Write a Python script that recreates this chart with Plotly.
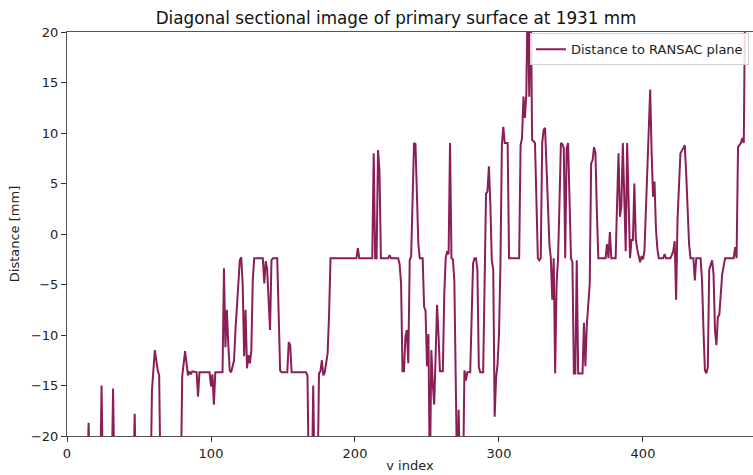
import plotly.graph_objects as go

# v index positions and distance values (mm); values beyond +/-20 are clipped by the axis
v_index = [
    0, 14, 15, 16, 23, 24, 25, 31, 32, 33,
    46, 47, 48, 58, 59, 61, 63, 64, 65, 79,
    80, 82, 84, 85, 86, 87, 90, 91, 92, 99,
    100, 101, 102, 103, 108, 109, 110, 111, 112, 113,
    114, 115, 116, 117, 119, 120, 121, 122, 123, 124,
    125, 126, 127, 128, 129, 130, 136, 137, 138, 139,
    141, 142, 143, 146, 147, 148, 149, 153, 154, 155,
    156, 166, 167, 168, 170, 171, 172, 174, 175, 176,
    177, 178, 179, 180, 181, 182, 183, 201, 202, 203,
    212, 213, 214, 215, 216, 217, 218, 223, 224, 225,
    230, 231, 232, 233, 234, 235, 236, 237, 238, 239,
    240, 241, 242, 243, 244, 245, 247, 248, 249, 250,
    251, 252, 253, 254, 255, 256, 257, 258, 259, 261,
    262, 263, 264, 265, 266, 267, 268, 269, 270, 271,
    272, 273, 275, 276, 277, 278, 280, 281, 282, 283,
    284, 285, 286, 287, 289, 290, 291, 292, 293, 294,
    295, 296, 297, 298, 299, 300, 301, 302, 303, 304,
    306, 307, 314, 315, 316, 317, 318, 319, 320, 321,
    322, 323, 324, 325, 326, 327, 328, 329, 330, 331,
    332, 333, 334, 335, 336, 337, 338, 339, 340, 341,
    342, 343, 344, 345, 346, 347, 348, 349, 350, 351,
    352, 353, 354, 355, 356, 358, 359, 360, 361, 362,
    363, 364, 365, 366, 367, 368, 369, 374, 375, 376,
    377, 378, 381, 382, 383, 384, 385, 386, 387, 388,
    389, 390, 391, 392, 393, 394, 395, 396, 397, 398,
    399, 400, 401, 402, 403, 404, 405, 406, 407, 408,
    409, 410, 411, 414, 415, 416, 419, 420, 421, 422,
    423, 424, 425, 426, 428, 429, 430, 431, 432, 433,
    435, 436, 437, 440, 441, 442, 443, 444, 445, 446,
    447, 448, 449, 450, 451, 452, 453, 454, 455, 456,
    457, 463, 464, 465, 466, 467, 468, 469, 470, 471,
    472,
]

distance = [
    -25, -25, -18.7, -25, -25, -15.0, -25, -25, -15.3, -25,
    -25, -17.8, -25, -25, -15.5, -11.5, -13.5, -14.0, -25, -25,
    -14.1, -11.6, -14.0, -13.6, -13.9, -13.6, -13.7, -16.1, -13.7, -13.7,
    -15.1, -13.9, -16.9, -13.7, -13.7, -3.4, -11.2, -7.5, -10.9, -13.5,
    -13.7, -13.2, -12.5, -9.5, -4.0, -2.6, -2.3, -5.0, -12.1, -7.5,
    -13.3, -12.0, -12.8, -11.5, -4.6, -2.4, -2.4, -4.9, -2.7, -3.5,
    -9.5, -2.6, -2.4, -2.4, -8.0, -13.5, -13.7, -13.7, -10.7, -11.0,
    -13.7, -13.7, -14.0, -25, -25, -15.0, -25, -25, -13.8, -13.6,
    -12.5, -14.0, -13.7, -12.5, -11.8, -8.0, -2.4, -2.4, -1.4, -2.4,
    -2.4, 8.0, -2.4, -2.4, 8.3, 6.3, -2.4, -2.4, -2.1, -2.4,
    -2.4, -3.0, -4.9, -13.6, -13.6, -10.2, -9.5, -12.8, -2.6, -2.2,
    5.0, 9.0, 8.9, 3.7, -1.0, -2.4, -2.4, -7.2, -7.6, -13.1,
    -9.9, -25, -11.5, -14.8, -16.9, -12.0, -7.0, -10.0, -13.6, -13.6,
    -6.0, -2.4, -1.7, -2.0, 9.0, -2.4, -2.5, -4.6, -13.0, -25,
    -17.4, -25, -25, -13.5, -14.5, -13.7, -13.7, -8.0, -2.9, -2.4,
    -2.4, -3.5, -13.2, -13.7, -13.7, -5.0, 4.0, 4.2, 6.7, 3.0,
    -2.6, -3.5, -18.1, -14.2, -12.9, -10.0, -3.0, 8.8, 10.6, 9.0,
    9.0, -2.4, -2.4, 8.8, 9.5, 13.6, 11.5, 13.9, 25, 13.6,
    25, 9.3, 9.2, 9.0, 3.0, -2.4, -2.6, -2.4, 9.0, 10.3,
    10.5, 6.0, 2.5, -1.0, -2.4, -6.5, -2.4, -13.8, -5.0, -2.4,
    3.0, 9.0, 8.9, 8.5, -2.4, 8.5, 9.0, 2.0, -2.4, -2.8,
    -13.8, -13.8, -2.6, -13.8, -13.8, -13.8, -8.8, -13.1, -9.0, -6.4,
    -5.0, 7.0, 7.3, 8.6, 8.0, 2.0, -2.4, -2.4, -1.0, -2.4,
    0.2, -2.4, -2.4, 3.0, 8.0, 1.7, 2.8, 9.0, 3.0, -1.7,
    9.0, 3.0, -2.4, -0.6, -0.6, 5.0, -0.5, -1.5, -2.2, -2.8,
    -2.2, -2.5, -1.7, 2.0, 7.0, 10.0, 14.3, 8.0, 3.7, 5.2,
    0.5, -1.5, -2.4, -2.4, -2.0, -2.4, -2.4, -2.1, -1.7, -0.7,
    -6.5, 1.5, 5.0, 8.0, 8.5, 8.8, 6.0, 2.2, -1.0, -2.4,
    -2.4, -4.6, -2.4, -2.4, -4.6, -9.5, -13.5, -13.8, -13.2, -3.5,
    -2.9, -2.6, -4.0, -9.5, -11.0, -8.2, -8.0, -5.3, -4.0, -3.2,
    -2.4, -2.4, -1.3, -2.4, 8.6, 8.8, 9.0, 9.5, 9.0, 25,
    30,
]

x_ticks = [0, 100, 200, 300, 400]
y_ticks = [-20, -15, -10, -5, 0, 5, 10, 15, 20]

LINE = "#8b1e57"
FONT = "DejaVu Sans"

fig = go.Figure()
fig.add_trace(go.Scatter(x=v_index, y=distance, mode="lines",
                         name="Distance to RANSAC plane",
                         line=dict(color=LINE, width=2)))

fig.update_layout(
    width=753, height=475,
    margin=dict(l=67, r=0, t=32, b=39),
    paper_bgcolor="white", plot_bgcolor="white",
    font=dict(family=FONT, size=13, color="#222"),
    title=dict(text="Diagonal sectional image of primary surface at 1931 mm",
               x=0.526, xanchor="center", y=0.962, yanchor="middle",
               font=dict(family=FONT, size=16.8, color="#111")),
    showlegend=True,
    legend=dict(x=0.994, xanchor="right", y=0.997, yanchor="top",
                bgcolor="rgba(255,255,255,0.85)", bordercolor="#d0d0d0", borderwidth=1,
                font=dict(family=FONT, size=13, color="#222"),
                tracegroupgap=0, itemwidth=30),
)

fig.update_xaxes(range=[0, 476.4], tickvals=x_ticks, showgrid=False, zeroline=False,
                 showline=True, linecolor="#555", linewidth=1, mirror=True,
                 ticks="outside", ticklen=5, tickcolor="#333",
                 title=dict(text="v index", standoff=1, font=dict(family=FONT, size=13)),
                 tickfont=dict(family=FONT, size=13))
fig.update_yaxes(range=[-20, 20], tickvals=y_ticks, showgrid=False, zeroline=False,
                 showline=True, linecolor="#555", linewidth=1,
                 ticks="outside", ticklen=5, tickcolor="#333",
                 title=dict(text="Distance [mm]", standoff=8, font=dict(family=FONT, size=13)),
                 tickfont=dict(family=FONT, size=13))

fig.write_html("out.html")
